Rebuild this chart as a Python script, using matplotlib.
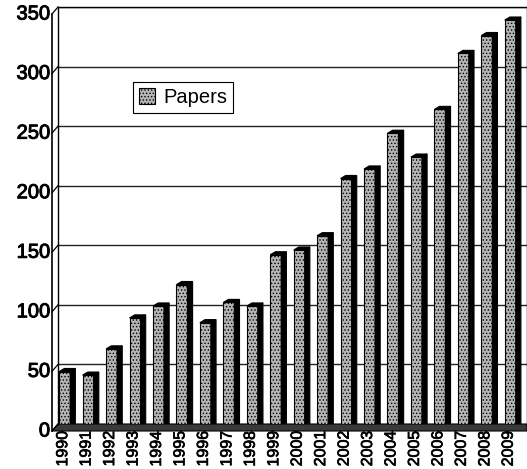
import matplotlib.pyplot as plt
import matplotlib.transforms as mtransforms
import matplotlib.patheffects as pe
from matplotlib.patches import Polygon, Rectangle
import numpy as np

plt.rcParams['font.family'] = ['Liberation Sans', 'DejaVu Sans']
plt.rcParams['hatch.linewidth'] = 0.6

years = [str(y) for y in range(1990, 2010)]
papers = [44, 41, 63, 89, 99, 117, 85, 102, 99, 142,
          146, 158, 206, 214, 244, 224, 264, 311, 326, 339]
y_ticks = [0, 50, 100, 150, 200, 250, 300, 350]

W, H = 527, 469
fig = plt.figure(figsize=(W / 100, H / 100), dpi=100)
# back wall of the pseudo-3D chart, in pixel placement
ax = fig.add_axes([58 / W, (H - 424) / H, (527 - 58) / W, (424 - 7) / H])
x0, x1 = -0.35, 19.65
ax.set_xlim(x0, x1)
ax.set_ylim(0, 350)

px_x = (x1 - x0) / (527 - 58)     # data units per pixel, x
px_y = 350 / (424 - 7)            # data units per pixel, y
dx_front, dy_front = -6 * px_x, -7 * px_y   # front plane offset

heavy = [pe.withStroke(linewidth=0.7, foreground='black')]

for v in y_ticks[1:]:
    ax.axhline(v, color='#222222', lw=1.0, zorder=1)

# floor strip between wall and front plane
floor = Polygon([(x0 + dx_front, dy_front), (x0, 0), (x1, 0), (x1, dy_front)],
                closed=True, facecolor='#3a3a3a', edgecolor='black',
                lw=0.8, clip_on=False, zorder=2)
ax.add_patch(floor)

# front axis line and slanted ticks joining it to the wall
ax.plot([x0 + dx_front, x0 + dx_front], [dy_front, 350 + dy_front],
        color='black', lw=1.2, clip_on=False, zorder=3)
for v in y_ticks:
    ax.plot([x0 + dx_front, x0], [v + dy_front, v], color='black',
            lw=0.9, clip_on=False, zorder=3)

label_tf = mtransforms.offset_copy(ax.get_yaxis_transform(), fig=fig,
                                   x=-8, y=-7, units='dots')
for v in y_ticks:
    ax.text(0, v, str(v), transform=label_tf, ha='right', va='center',
            fontsize=14.5, color='black', path_effects=heavy)

# columns: hatched front face, dark side and top
fw, sd, sh = 0.47, 0.22, 2.6
base = dy_front * 0.5
for i, v in enumerate(papers):
    left = i - 0.3
    ax.add_patch(Rectangle((left, base), fw, v - base, facecolor='#b4b4b4',
                           edgecolor='black', hatch='.....', lw=0.8, zorder=4))
    ax.add_patch(Polygon([(left + fw, base), (left + fw + sd, base + sh),
                          (left + fw + sd, v + sh), (left + fw, v)],
                         closed=True, facecolor='black', edgecolor='black',
                         lw=0.8, zorder=4))
    ax.add_patch(Polygon([(left, v), (left + sd, v + sh),
                          (left + fw + sd, v + sh), (left + fw, v)],
                         closed=True, facecolor='black', edgecolor='black',
                         lw=0.8, zorder=4))

ax.set_yticks([])
ax.set_xticks(np.arange(len(years)) - 0.15)
ax.set_xticklabels(years, rotation=90, fontsize=11.5)
for lab in ax.get_xticklabels():
    lab.set_path_effects([pe.withStroke(linewidth=0.5, foreground='black')])
ax.tick_params(axis='x', length=0, pad=5)
for side in ['left', 'right', 'top']:
    ax.spines[side].set_color('black')
    ax.spines[side].set_linewidth(1.0)
ax.spines['bottom'].set_visible(False)

handle = Rectangle((0, 0), 1, 1, facecolor='#b4b4b4', edgecolor='black',
                   hatch='.....', lw=0.8)
leg = fig.legend([handle], ['Papers'], loc='upper left',
                 bbox_to_anchor=(133 / W, 1 - 82 / H), borderaxespad=0,
                 fancybox=False, edgecolor='black', fontsize=14.5,
                 handlelength=0.8, handleheight=0.8, handletextpad=0.4,
                 borderpad=0.3, framealpha=1)
leg.get_frame().set_linewidth(0.8)

fig.savefig('out.png', dpi=100)
